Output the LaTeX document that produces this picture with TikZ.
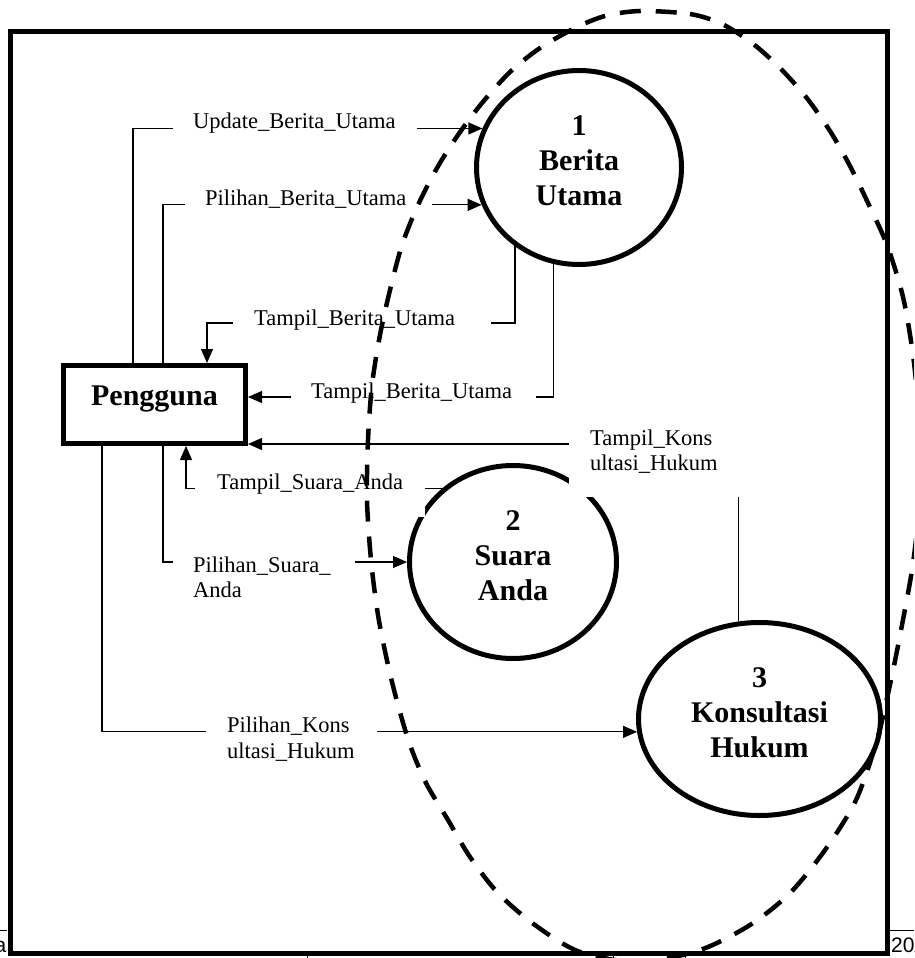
\documentclass[tikz,border=0pt]{standalone}
\usepackage{fontspec}
\setmainfont{Liberation Serif}
\newfontfamily\footfont{Liberation Sans}
\usetikzlibrary{arrows.meta,shapes.geometric}
\begin{document}
\begin{tikzpicture}[x=1pt,y=-1pt,
  frameline/.style={line width=5pt},
  proc/.style={ellipse, draw, line width=5pt, inner sep=0pt},
  ent/.style={rectangle, draw, line width=5pt, inner sep=0pt, minimum width=182pt, minimum height=78pt},
  flow/.style={line width=1.2pt, -{Triangle[length=14pt,width=12pt]}},
  maskbox/.style={fill=white},
  lbl/.style={font=\fontsize{22.5}{26}\selectfont, inner sep=0pt, anchor=base west},
  ptxt/.style={font=\fontsize{30}{35}\selectfont\bfseries, inner sep=0pt, anchor=base},
  boundline/.style={line width=4.5pt, dash pattern=on 21pt off 15pt},
  foottxt/.style={font=\footfont\fontsize{21}{24}\selectfont, inner sep=0pt}
]
\useasboundingbox (0,0) rectangle (914,958);
\clip (0,0) rectangle (914,958);

% outer frame
\draw[frameline] (10,31.5) rectangle (887.5,953.5);

% nodes
\node[ent] (pg) at (154.5,404.5) {};
\node[proc, minimum width=205pt, minimum height=194pt] (p1) at (579,167.5) {};
\node[proc, minimum width=207pt, minimum height=193pt] (p2) at (513,562) {};
\node[proc, minimum width=242pt, minimum height=193pt] (p3) at (759.5,719) {};

% corner coordinates
\coordinate (k1) at (133,128);
\coordinate (k2) at (163,204);
\coordinate (k3) at (207,323);
\coordinate (k4) at (553,397);
\coordinate (k5) at (739,444);
\coordinate (k6) at (186,488);
\coordinate (k7) at (163,563);
\coordinate (k8) at (102,731);

% connectors
\draw[flow] (k1 |- pg.north) |- (p1.158);
\draw[flow] (k2 |- pg.north) |- (p1.201);
\draw[flow] (p1.231) |- (k3) -- (k3 |- pg.north);
\draw[flow] (p1.255) |- (k4 -| pg.east);
\draw[flow] (p3.102) |- (k5 -| pg.east);
\draw[flow] (p2.134) -| (k6 |- pg.south);
\draw[flow] (k7 |- pg.south) |- (p2.west);
\draw[flow] (k8 |- pg.south) |- (p3.186);

% label backgrounds (hide the parts of lines under the texts)
\fill[maskbox] (173,110) rectangle (417,142);
\fill[maskbox] (185,188) rectangle (432,216);
\fill[maskbox] (233,305) rectangle (491,338);
\fill[maskbox] (291,380) rectangle (536,410);
\fill[maskbox] (569,425) rectangle (745,497);
\fill[maskbox] (195,468) rectangle (425,517);
\fill[maskbox] (173,548) rectangle (355,605);
\fill[maskbox] (206,712) rectangle (377,765);

% labels
\node[lbl] (t1) at (193,128) {Update\_Berita\_Utama};
\node[lbl] (t2) at (205,205) {Pilihan\_Berita\_Utama};
\node[lbl] (t3) at (254,325) {Tampil\_Berita\_Utama};
\node[lbl] (t4) at (311,398) {Tampil\_Berita\_Utama};
\node[lbl] (t5a) at (590,445) {Tampil\_Kons};
\node[lbl] (t5b) at (590,470) {ultasi\_Hukum};
\node[lbl] (t6) at (217,489) {Tampil\_Suara\_Anda};
\node[lbl] (t7a) at (193,572) {Pilihan\_Suara\_};
\node[lbl] (t7b) at (193,597) {Anda};
\node[lbl] (t8a) at (227,732) {Pilihan\_Kons};
\node[lbl] (t8b) at (227,758) {ultasi\_Hukum};

% process texts
\node[ptxt] (p1a) at (579,135) {1};
\node[ptxt] (p1b) at (579,170) {Berita};
\node[ptxt] (p1c) at (579,205) {Utama};
\node[ptxt] (p2a) at (513,530) {2};
\node[ptxt] (p2b) at (513,565) {Suara};
\node[ptxt] (p2c) at (513,600) {Anda};
\node[ptxt] (p3a) at (759.5,687) {3};
\node[ptxt] (p3b) at (759.5,722) {Konsultasi};
\node[ptxt] (p3c) at (759.5,757) {Hukum};
\node[ptxt] (pgt) at (154.5,405) {Pengguna};

% dashed boundary
\draw[boundline] plot[smooth cycle] coordinates {
 (640,11) (690,14) (722,24) (752,43) (779,67) (806,97) (830,131) (850,166)
 (868,203) (887,245) (903,297) (913,355) (919,415) (921,465) (918,520)
 (912,570) (902,625) (891,680) (877,740) (856,800) (825,850) (790,893)
 (750,925) (700,950) (640,962) (580,952) (535,925) (498,893) (470,857)
 (448,820) (426,783) (410,745) (398,705) (388,665) (378,615) (371,560)
 (367,500) (368,440) (372,385) (380,335) (390,290) (402,245) (418,205)
 (437,168) (458,135) (482,103) (510,72) (540,48) (575,28) (605,16)};

% page footer remnants
\draw[line width=1pt] (0,930) -- (7,930);
\draw[line width=1pt] (890,930) -- (914,930);
\draw[line width=1pt] (307,955) -- (307,958);
\draw[line width=1pt] (613,955) -- (613,958);
\draw[line width=1pt] (685,955) -- (685,958);
\node[foottxt, anchor=base east] (fa) at (6.5,952) {a};
\node[foottxt, anchor=base west] (fb) at (891,952) {20/};
\end{tikzpicture}
\end{document}
